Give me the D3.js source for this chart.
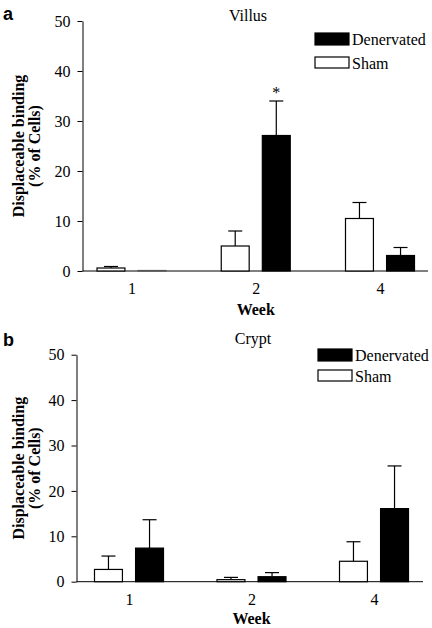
<!DOCTYPE html>
<html>
<head>
<meta charset="utf-8">
<script src="https://cdn.jsdelivr.net/npm/d3@7"></script>
<style>
  html, body { margin: 0; padding: 0; background: #fff; }
  svg { display: block; }
</style>
</head>
<body>
<svg id="chart" width="432" height="628" font-family="Liberation Serif, Times New Roman, serif"></svg>
<script>
// ---- Data ----
const weeks = ["1", "2", "4"];
const seriesNames = ["Sham", "Denervated"];
const yTicks = [0, 10, 20, 30, 40, 50];

const villusSham = [0.6, 5.0, 10.5];
const villusShamErr = [0.3, 3.0, 3.2];
const villusDen = [0.1, 27.1, 3.1];
const villusDenErr = [0.0, 6.9, 1.6];
const villusStars = [false, true, false];

const cryptSham = [2.7, 0.45, 4.5];
const cryptShamErr = [2.95, 0.5, 4.3];
const cryptDen = [7.4, 1.1, 16.1];
const cryptDenErr = [6.25, 0.9, 9.4];
const cryptStars = [false, false, false];

const SERIF = "Liberation Serif, Times New Roman, serif";
const SANS = "Liberation Sans, Arial, sans-serif";
const svg = d3.select("#chart");

function drawPanel(cfg) {
  const g = svg.append("g");
  const y = d3.scaleLinear().domain([0, 50]).range([cfg.y0, cfg.y50]);
  const x = d3.scalePoint().domain(weeks).range([cfg.xFirst, cfg.xLast]);
  const sub = d3.scaleBand().domain(seriesNames).range([-34.5, 34.5]).paddingInner(0.32);

  // y axis
  const ya = g.append("g")
    .attr("transform", `translate(${cfg.axisX},0)`)
    .call(d3.axisLeft(y).tickValues(yTicks).tickSize(5).tickSizeOuter(0).tickPadding(7));
  ya.attr("font-family", SERIF).attr("font-size", 16);
  ya.selectAll("text").attr("fill", "#000");
  ya.selectAll("line, path").attr("stroke", "#000");

  // x axis
  const xa = g.append("g")
    .attr("transform", `translate(0,${cfg.y0})`)
    .call(d3.axisBottom(x).tickSize(0).tickPadding(12));
  xa.attr("font-family", SERIF).attr("font-size", 16);
  xa.select(".domain").remove();
  xa.selectAll("text").attr("fill", "#000");
  g.append("line")
    .attr("x1", cfg.axisX).attr("x2", cfg.right)
    .attr("y1", cfg.y0).attr("y2", cfg.y0)
    .attr("stroke", "#000").attr("stroke-width", 1);

  const data = [];
  weeks.forEach((w, i) => {
    data.push({ week: w, s: "Sham", v: cfg.sham[i], e: cfg.shamErr[i] });
    data.push({ week: w, s: "Denervated", v: cfg.den[i], e: cfg.denErr[i], star: cfg.stars[i] });
  });

  const bars = g.append("g");
  data.forEach(d => {
    const cx = x(d.week) + sub(d.s) + sub.bandwidth() / 2;
    if (d.e > 0) {
      bars.append("line")
        .attr("x1", cx).attr("x2", cx)
        .attr("y1", y(d.v)).attr("y2", y(d.v + d.e))
        .attr("stroke", "#000").attr("stroke-width", 1.2);
      bars.append("line")
        .attr("x1", cx - 7).attr("x2", cx + 7)
        .attr("y1", y(d.v + d.e)).attr("y2", y(d.v + d.e))
        .attr("stroke", "#000").attr("stroke-width", 1.2);
    }
    bars.append("rect")
      .attr("x", x(d.week) + sub(d.s))
      .attr("width", sub.bandwidth())
      .attr("y", y(d.v))
      .attr("height", Math.max(0, y(0) - y(d.v)))
      .attr("fill", d.s === "Denervated" ? "#000" : "#fff")
      .attr("stroke", d.s === "Denervated" ? (d.v < 0.5 ? "#555" : "#000") : "#000")
      .attr("stroke-width", 1.2);
    if (d.star) {
      bars.append("text")
        .attr("x", cx).attr("y", y(d.v + d.e) - 3)
        .attr("text-anchor", "middle").attr("font-size", 16)
        .text("*");
    }
  });

  // Title
  g.append("text")
    .attr("x", cfg.titleX).attr("y", cfg.titleY)
    .attr("text-anchor", "middle").attr("font-size", 16)
    .text(cfg.title);

  // Legend
  const leg = [
    { name: "Denervated", fill: "#000", y: cfg.legY0 },
    { name: "Sham", fill: "#fff", y: cfg.legY1 }
  ];
  leg.forEach(l => {
    g.append("rect")
      .attr("x", cfg.legX).attr("y", l.y)
      .attr("width", 34).attr("height", l.name === "Sham" ? 11 : 12)
      .attr("fill", l.fill).attr("stroke", "#000").attr("stroke-width", 1.2);
    g.append("text")
      .attr("x", cfg.legX + 37).attr("y", l.y + 12)
      .attr("font-size", 16)
      .text(l.name);
  });

  // Y label
  const ly = (cfg.y0 + cfg.y50) / 2;
  g.append("text")
    .attr("transform", `translate(24,${ly}) rotate(-90)`)
    .attr("text-anchor", "middle").attr("font-size", 16).attr("font-weight", "bold")
    .text("Displaceable binding");
  g.append("text")
    .attr("transform", `translate(40,${ly}) rotate(-90)`)
    .attr("text-anchor", "middle").attr("font-size", 16).attr("font-weight", "bold")
    .text("(% of Cells)");

  // X label
  g.append("text")
    .attr("x", x("2")).attr("y", cfg.weekY)
    .attr("text-anchor", "middle").attr("font-size", 16).attr("font-weight", "bold")
    .text("Week");

  // Panel letter
  g.append("text")
    .attr("x", 3).attr("y", cfg.letterY)
    .attr("font-family", SANS)
    .attr("font-size", 18).attr("font-weight", "bold")
    .text(cfg.letter);
}

drawPanel({
  letter: "a", letterY: 20, title: "Villus", titleX: 248, titleY: 21,
  axisX: 82.5, right: 428, y0: 271, y50: 21, xFirst: 131.5, xLast: 380,
  sham: villusSham, shamErr: villusShamErr, den: villusDen, denErr: villusDenErr, stars: villusStars,
  legX: 315, legY0: 33, legY1: 57, weekY: 315
});

drawPanel({
  letter: "b", letterY: 346, title: "Crypt", titleX: 253, titleY: 344,
  axisX: 76.5, right: 423, y0: 581.7, y50: 354.7, xFirst: 129, xLast: 374,
  sham: cryptSham, shamErr: cryptShamErr, den: cryptDen, denErr: cryptDenErr, stars: cryptStars,
  legX: 318, legY0: 349, legY1: 370, weekY: 624
});
</script>
</body>
</html>
